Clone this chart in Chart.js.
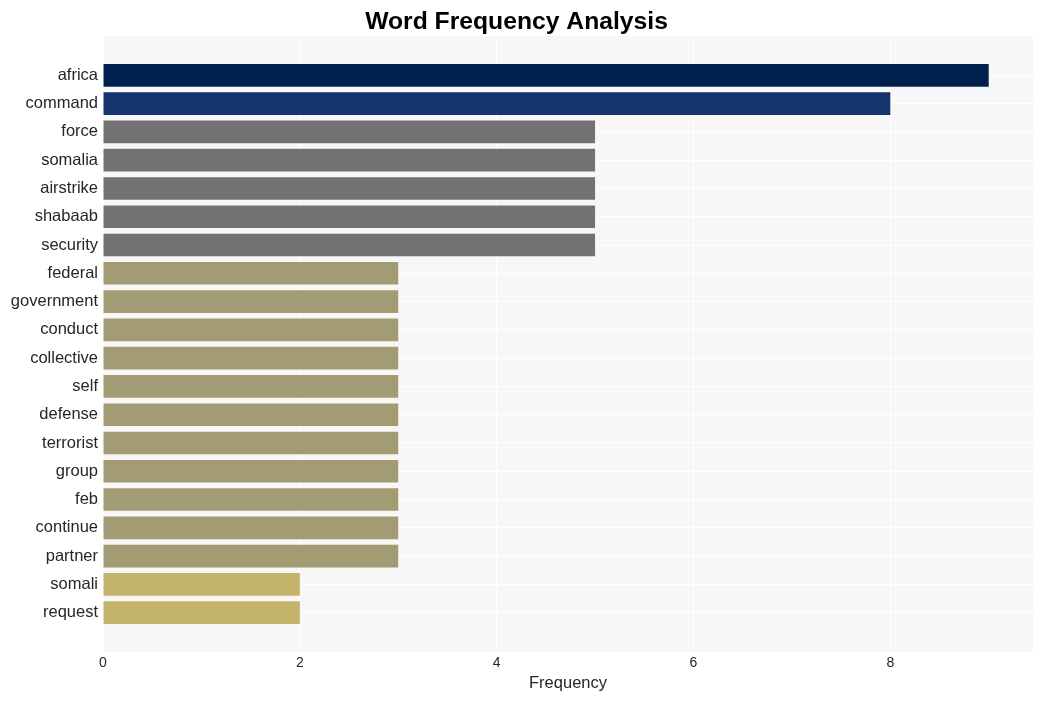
<!DOCTYPE html>
<html>
<head>
<meta charset="utf-8">
<script src="https://cdn.jsdelivr.net/npm/chart.js@4/dist/chart.umd.min.js"></script>
<style>
  html, body { margin: 0; padding: 0; background: #fff; }
  #chart { display: block; }
</style>
</head>
<body>
<canvas id="chart" width="1042" height="701"></canvas>
<script>
'use strict';
const words  = ['africa', 'command', 'force', 'somalia', 'airstrike', 'shabaab', 'security',
                'federal', 'government', 'conduct', 'collective', 'self', 'defense', 'terrorist',
                'group', 'feb', 'continue', 'partner', 'somali', 'request'];
const counts = [9, 8, 5, 5, 5, 5, 5, 3, 3, 3, 3, 3, 3, 3, 3, 3, 3, 3, 2, 2];
const xTicks = [0, 2, 4, 6, 8];

const FONT = '"Liberation Sans", Arial, sans-serif';

function barColor(v) {
  if (v >= 9) return '#00214d';
  if (v >= 8) return '#15346d';
  if (v >= 5) return '#727274';
  if (v >= 3) return '#a39b74';
  return '#c4b36a';
}

// light plot background, like the seaborn style
const plotBg = {
  id: 'plotBg',
  beforeDraw(chart) {
    const { ctx, chartArea: a } = chart;
    ctx.save();
    ctx.fillStyle = '#f7f7f7';
    ctx.fillRect(a.left, a.top, a.right - a.left, a.bottom - a.top);
    ctx.restore();
  },
};

new Chart(document.getElementById('chart'), {
  type: 'bar',
  data: {
    datasets: [{
      data: words.map((w, i) => ({ x: counts[i], y: i })),
      backgroundColor: counts.map(barColor),
      borderWidth: 0,
      categoryPercentage: 1,
      barPercentage: 0.8,
    }],
  },
  options: {
    indexAxis: 'y',
    responsive: false,
    animation: false,
    layout: { padding: { left: 0, right: 9, top: 0, bottom: 0 } },
    plugins: {
      legend: { display: false },
      tooltip: { enabled: false },
      title: {
        display: true,
        text: 'Word Frequency Analysis',
        color: '#000',
        font: { family: FONT, size: 24.7, weight: 'bold', lineHeight: 1 },
        padding: { top: 10, bottom: 1.3 },
      },
    },
    scales: {
      x: {
        type: 'linear',
        min: 0, max: 9.45,
        afterBuildTicks: s => { s.ticks = xTicks.map(v => ({ value: v })); },
        afterFit: s => { s.height = 49; },
        grid: { color: '#ffffff', lineWidth: 1, drawTicks: false },
        border: { display: false },
        ticks: { color: '#262626', padding: 3, font: { family: FONT, size: 14 } },
        title: {
          display: true, text: 'Frequency', color: '#262626',
          font: { family: FONT, size: 16.5 },
          padding: { top: 4, bottom: 8 },
        },
      },
      y: {
        type: 'linear',
        reverse: true,
        offset: false,
        min: -1.39, max: 20.39,
        afterBuildTicks: s => { s.ticks = words.map((w, i) => ({ value: i })); },
        afterFit: s => { s.width = 103; },
        grid: { color: '#ffffff', lineWidth: 1, drawTicks: false, offset: false },
        border: { display: false },
        ticks: {
          color: '#262626', padding: 5,
          font: { family: FONT, size: 16.5 },
          callback: v => words[v],
        },
      },
    },
  },
  plugins: [plotBg],
});
</script>
</body>
</html>
